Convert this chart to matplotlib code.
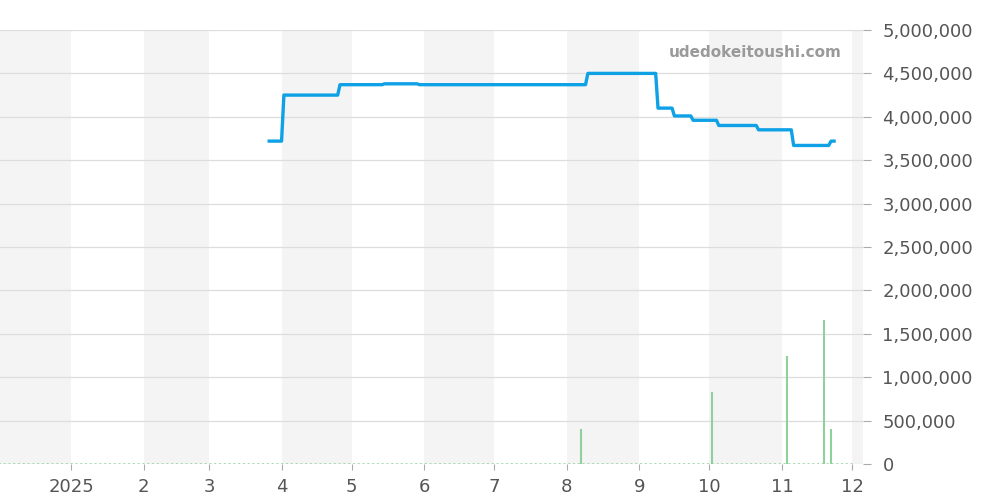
import numpy as np
import pandas as pd
import matplotlib
matplotlib.use("Agg")
import matplotlib.pyplot as plt
import matplotlib.ticker as mticker

# price steps (last day of the old value)
price_dates = ["2025-03-26", "2025-04-01", "2025-04-25", "2025-05-14", "2025-05-29",
               "2025-08-09", "2025-09-08", "2025-09-15", "2025-09-23", "2025-10-04",
               "2025-10-21", "2025-11-05", "2025-11-21", "2025-11-23"]
price_values = [3720000, 4250000, 4370000, 4380000, 4370000,
                4500000, 4100000, 4010000, 3960000, 3900000,
                3850000, 3670000, 3720000, 3720000]

volume_dates = ["2025-08-07", "2025-10-02", "2025-11-03", "2025-11-19", "2025-11-22"]
volume_values = [400000, 830000, 1240000, 1660000, 400000]

x_start = pd.Timestamp("2024-12-01 14:00")
x_end = pd.Timestamp("2025-12-05 16:00")
volume_start = pd.Timestamp("2024-12-01")
volume_end = pd.Timestamp("2025-12-02")

tick_labels = ["2025", "2", "3", "4", "5", "6", "7", "8", "9", "10", "11", "12"]

fig = plt.figure(figsize=(10, 5), dpi=100)
ax = fig.add_axes([0.0, 0.072, 0.863, 0.868])

# alternating month shading
months = pd.date_range("2024-12-01", "2026-01-01", freq="MS")
for i in range(0, len(months) - 1, 2):
    ax.axvspan(months[i], months[i + 1], color="#f4f4f4", lw=0, zorder=0)

ax.set_axisbelow(True)
ax.grid(axis="y", color="#dddddd", lw=0.9)

# volume
ax.plot([volume_start, volume_end], [0, 0], color="#9ad6a4", lw=1.3, ls=":", zorder=2)
ax.vlines(pd.to_datetime(volume_dates), 0, volume_values, color="#8fd19a", lw=1.5, zorder=2)

# price: daily series, each change runs over one day
pd_dates = pd.to_datetime(price_dates)
xs, ys = [pd_dates[0]], [price_values[0]]
for d, v in zip(pd_dates[1:], price_values[1:]):
    xs.append(d)
    ys.append(ys[-1])
    xs.append(d + pd.Timedelta(days=1))
    ys.append(v)
ax.plot(xs, ys, color="#0ea1e6", lw=2.4, zorder=3,
        solid_joinstyle="round", solid_capstyle="butt")

ax.set_xlim(x_start, x_end)
ax.set_ylim(0, 5000000)

ticks = pd.date_range("2025-01-01", "2025-12-01", freq="MS")
ax.set_xticks(ticks)
ax.set_xticklabels(tick_labels)
ax.yaxis.tick_right()
ax.yaxis.set_major_locator(mticker.MultipleLocator(500000))
ax.yaxis.set_major_formatter(mticker.FuncFormatter(lambda v, p: f"{int(v):,}"))

ax.tick_params(axis="both", colors="#aaaaaa", labelcolor="#555555", labelsize=13, length=6)
ax.tick_params(axis="x", length=4, pad=6)
ax.tick_params(axis="y", pad=8)
for s in ax.spines.values():
    s.set_visible(False)

fig.text(0.755, 0.895, "udedokeitoushi.com", ha="center", va="center",
         fontsize=11, fontweight="bold", color="#9a9a9a")

fig.savefig("out.png", dpi=100)
